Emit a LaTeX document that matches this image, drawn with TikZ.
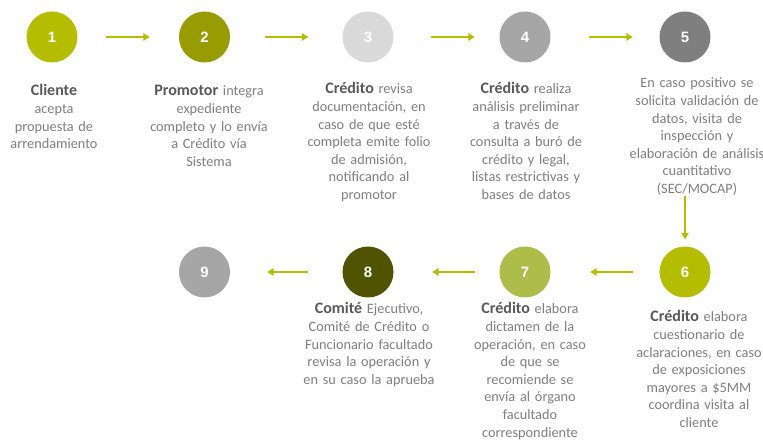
\documentclass[tikz,border=0pt]{standalone}
\usepackage{fontspec}
\setmainfont{Carlito}
\newfontfamily\numfont{Liberation Sans}
\usetikzlibrary{arrows.meta}
\definecolor{gA}{HTML}{B5BD00}
\definecolor{gB}{HTML}{989C00}
\definecolor{gC}{HTML}{D9D9D9}
\definecolor{gD}{HTML}{A6A6A6}
\definecolor{gE}{HTML}{7F7F7F}
\definecolor{gG}{HTML}{ACBD4A}
\definecolor{gH}{HTML}{505400}
\definecolor{txtgrey}{HTML}{7F7F7F}
\definecolor{boldgrey}{HTML}{595959}
\newcommand\hd[1]{{\fontsize{16}{17.6}\selectfont\bfseries\color{boldgrey}#1}}
\begin{document}
\begin{tikzpicture}[x=1pt,y=-1pt,
  stepcircle/.style={circle, minimum size=51pt, inner sep=0pt, draw=none,
    text=white, font=\numfont\bfseries\fontsize{15}{15}\selectfont},
  desc/.style={text width=170pt, align=center, inner sep=0pt, anchor=base,
    text=txtgrey, font=\fontsize{14.3}{17.6}\selectfont},
  flowarrow/.style={draw=gA, line width=2.5pt, -{Triangle[length=6.5pt,width=7.5pt]}}]
\useasboundingbox[fill=white] (0,0) rectangle (763,443);

% circles
\node[stepcircle, fill=gA] (c1) at (52,37) {1};
\node[stepcircle, fill=gB] (c2) at (204.5,37) {2};
\node[stepcircle, fill=gC] (c3) at (368,37) {3};
\node[stepcircle, fill=gD] (c4) at (525,37) {4};
\node[stepcircle, fill=gE] (c5) at (685,37) {5};
\node[stepcircle, fill=gA] (c6) at (685,272) {6};
\node[stepcircle, fill=gG] (c7) at (525,272) {7};
\node[stepcircle, fill=gH] (c8) at (368,272) {8};
\node[stepcircle, fill=gD] (c9) at (204.5,272) {9};

% arrows
\draw[flowarrow, shorten <=28.5pt, shorten >=29pt] (c1) -- (c2);
\draw[flowarrow, shorten <=35pt, shorten >=34pt] (c2) -- (c3);
\draw[flowarrow, shorten <=37.5pt, shorten >=24.5pt] (c3) -- (c4);
\draw[flowarrow, shorten <=38.5pt, shorten >=26.5pt] (c4) -- (c5);
\draw[flowarrow, shorten <=133pt, shorten >=7pt] (c5) -- (c6);
\draw[flowarrow, shorten <=26.5pt, shorten >=39.5pt] (c6) -- (c7);
\draw[flowarrow, shorten <=24.5pt, shorten >=38.5pt] (c7) -- (c8);
\draw[flowarrow, shorten <=34.5pt, shorten >=37pt] (c8) -- (c9);

% texts
\node[desc] (t1) at (54,96) {\hd{Cliente}\\acepta\\propuesta de\\arrendamiento};
\node[desc] (t2) at (209,96) {\hd{Promotor} integra\\expediente\\completo y lo envía\\a Crédito vía\\Sistema};
\node[desc] (t3) at (369,94) {\hd{Crédito} revisa\\documentación, en\\caso de que esté\\completa emite folio\\de admisión,\\notificando al\\promotor};
\node[desc] (t4) at (526,94) {\hd{Crédito} realiza\\análisis preliminar\\a través de\\consulta a buró de\\crédito y legal,\\listas restrictivas y\\bases de datos};
\node[desc] (t5) at (697,88) {En caso positivo se\\solicita validación de\\datos, visita de\\inspección y\\elaboración de análisis\\cuantitativo\\(SEC/MOCAP)};
\node[desc] (t6) at (699,322) {\hd{Crédito} elabora\\cuestionario de\\aclaraciones, en caso\\de exposiciones\\mayores a \$5MM\\coordina visita al\\cliente};
\node[desc] (t7) at (530,314) {\hd{Crédito} elabora\\dictamen de la\\operación, en caso\\de que se\\recomiende se\\envía al órgano\\facultado\\correspondiente};
\node[desc] (t8) at (369,314) {\hd{Comité} Ejecutivo,\\Comité de Crédito o\\Funcionario facultado\\revisa la operación y\\en su caso la aprueba};
\end{tikzpicture}
\end{document}
